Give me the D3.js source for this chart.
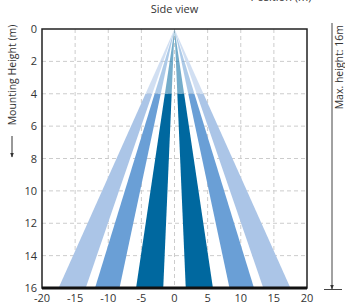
<!DOCTYPE html>
<html>
<head>
<meta charset="utf-8">
<script src="https://cdn.jsdelivr.net/npm/d3@7"></script>
<style>
  body { margin: 0; background: #fff; }
  svg text { font-family: "Open Sans", sans-serif; fill: #333; }
</style>
</head>
<body>
<svg id="chart"></svg>
<script>
const width = 345;
const height = 305;

// beam edges at floor level (16 m), in metres
const bandNames = ['inner', 'middle', 'outer'];
const bandLeft = [[-5.8, -1.7], [-12, -8.3], [-17.5, -13.4]];
const bandRight = [[1.7, 5.8], [8.3, 12], [13.4, 17.5]];
const bandColors = ['#00689f', '#6a9fd6', '#abc5e7'];
const fadeHeight = 4;
const maxHeight = 16;

const xTicks = [-20, -15, -10, -5, 0, 5, 10, 15, 20];
const yTicks = [0, 2, 4, 6, 8, 10, 12, 14, 16];

const margin = {top: 29, right: 38, bottom: 17, left: 42};

const svg = d3.select('#chart')
  .attr('width', width)
  .attr('height', height);

const x = d3.scaleLinear().domain([-20, 20]).range([margin.left, width - margin.right]);
const y = d3.scaleLinear().domain([0, maxHeight]).range([margin.top, height - margin.bottom]);

// grid
svg.append('g')
  .selectAll('line')
  .data(xTicks.slice(1, -1))
  .enter()
  .append('line')
    .attr('x1', d => x(d)).attr('x2', d => x(d))
    .attr('y1', y(0)).attr('y2', y(maxHeight))
    .attr('stroke', '#ccc')
    .attr('stroke-dasharray', '4,3');

svg.append('g')
  .selectAll('line')
  .data(yTicks.slice(1, -1))
  .enter()
  .append('line')
    .attr('x1', x(-20)).attr('x2', x(20))
    .attr('y1', d => y(d)).attr('y2', d => y(d))
    .attr('stroke', '#ccc')
    .attr('stroke-dasharray', '4,3');

// beams: faded cone above fadeHeight, solid below
const bands = [];
bandNames.forEach((name, i) => {
  bands.push({name: name, edges: bandLeft[i], color: bandColors[i]});
  bands.push({name: name, edges: bandRight[i], color: bandColors[i]});
});

const at = (edge, h) => edge * h / maxHeight;

const beams = svg.append('g');

beams.selectAll('path.upper')
  .data(bands)
  .enter()
  .append('path')
    .classed('upper', true)
    .attr('fill', d => d.color)
    .attr('opacity', 0.55)
    .attr('d', d => d3.line()([
      [x(0), y(0)],
      [x(at(d.edges[0], fadeHeight)), y(fadeHeight)],
      [x(at(d.edges[1], fadeHeight)), y(fadeHeight)]
    ]) + 'Z');

beams.selectAll('path.lower')
  .data(bands)
  .enter()
  .append('path')
    .classed('lower', true)
    .attr('fill', d => d.color)
    .attr('d', d => d3.line()([
      [x(at(d.edges[0], fadeHeight)), y(fadeHeight)],
      [x(at(d.edges[1], fadeHeight)), y(fadeHeight)],
      [x(d.edges[1]), y(maxHeight)],
      [x(d.edges[0]), y(maxHeight)]
    ]) + 'Z');

// frame
svg.append('rect')
  .attr('x', x(-20)).attr('y', y(0))
  .attr('width', x(20) - x(-20))
  .attr('height', y(maxHeight) - y(0))
  .attr('fill', 'none')
  .attr('stroke', '#222')
  .attr('stroke-width', 1.5);

svg.append('line')
  .attr('x1', x(-20)).attr('x2', x(20))
  .attr('y1', y(maxHeight)).attr('y2', y(maxHeight))
  .attr('stroke', '#111')
  .attr('stroke-width', 3);

// tick labels
svg.append('g')
  .selectAll('text')
  .data(xTicks)
  .enter()
  .append('text')
    .attr('x', d => x(d))
    .attr('y', y(maxHeight) + 14)
    .attr('text-anchor', 'middle')
    .style('font-size', '11px')
    .text(d => d);

svg.append('g')
  .selectAll('text')
  .data(yTicks)
  .enter()
  .append('text')
    .attr('x', x(-20) - 5)
    .attr('y', d => y(d) + 4)
    .attr('text-anchor', 'end')
    .style('font-size', '11px')
    .text(d => d);

// titles
svg.append('text')
  .attr('x', x(0))
  .attr('y', 13)
  .attr('text-anchor', 'middle')
  .style('font-size', '11px')
  .text('Side view');

// partly cut off at the top edge, as in the source
svg.append('text')
  .attr('x', 281)
  .attr('y', 1)
  .attr('text-anchor', 'middle')
  .style('font-size', '11px')
  .text('Position (m)');

svg.append('text')
  .attr('transform', 'translate(16,75) rotate(-90)')
  .attr('text-anchor', 'middle')
  .style('font-size', '10.5px')
  .text('Mounting Height (m)');

const defs = svg.append('defs');
defs.append('marker')
  .attr('id', 'arrow')
  .attr('viewBox', '0 0 10 10')
  .attr('refX', 9).attr('refY', 5)
  .attr('markerWidth', 5).attr('markerHeight', 5)
  .attr('orient', 'auto')
  .append('path')
    .attr('d', 'M0,1L10,5L0,9Z')
    .attr('fill', '#333');

svg.append('line')
  .attr('x1', 12).attr('x2', 12)
  .attr('y1', 136).attr('y2', 157)
  .attr('stroke', '#333')
  .attr('stroke-width', 1)
  .attr('marker-end', 'url(#arrow)');

// max height annotation
svg.append('line')
  .attr('x1', 332).attr('x2', 332)
  .attr('y1', 23).attr('y2', y(maxHeight) + 1)
  .attr('stroke', '#444')
  .attr('stroke-width', 1)
  .attr('marker-end', 'url(#arrow)');

svg.append('line')
  .attr('x1', 324).attr('x2', 342)
  .attr('y1', y(maxHeight) + 1.5).attr('y2', y(maxHeight) + 1.5)
  .attr('stroke', '#444')
  .attr('stroke-width', 1);

svg.append('text')
  .attr('transform', 'translate(343,25) rotate(-90)')
  .attr('text-anchor', 'end')
  .style('font-size', '10.5px')
  .text('Max. height: 16m');
</script>
</body>
</html>
